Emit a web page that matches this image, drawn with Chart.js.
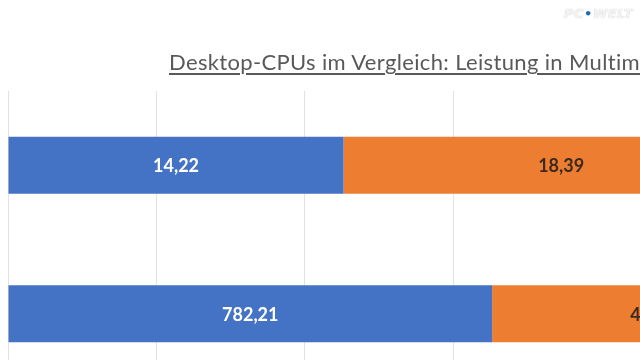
<!DOCTYPE html>
<html>
<head>
<meta charset="utf-8">
<script src="https://cdn.jsdelivr.net/npm/chart.js@4.4.1/dist/chart.umd.min.js"></script>
<style>
    html, body { margin: 0; padding: 0; background: #fff; overflow: hidden; width: 640px; height: 360px; }
    #wrap { position: relative; width: 640px; height: 388px; }
    #title {
        position: absolute; left: 169px; top: 48px; white-space: nowrap;
        font-family: Lato, sans-serif; font-size: 22px; color: #595959;
        letter-spacing: 0.35px; font-variant-ligatures: none;
        text-decoration: underline; text-underline-offset: 3px;
    }
    #logo {
        position: absolute; left: 564px; top: 6px; font-family: "DejaVu Sans", sans-serif;
        font-size: 13px; font-weight: bold; font-style: italic; color: #f4f4f4;
        text-shadow: 0 0 1px #b8b8b8; letter-spacing: 0.5px;
    }
    #logo span { color: #1f6fb3; font-style: normal; text-shadow: none; }
</style>
</head>
<body>
<div id="wrap">
    <canvas id="myChart" width="640" height="388"></canvas>
    <div id="title">Desktop-CPUs im Vergleich: Leistung in Multim</div>
    <div id="logo">PC<span>•</span>WELT</div>
</div>
<script>
// rows of the 100% stacked chart (only the visible part of the frame)
const categories = ['CPU A', 'CPU B'];
// share of each row in percent
const blueShare = [22.6, 32.6];
const orangeShare = [29.3, 22.4];
// values printed inside the bars
const blueLabels = ['14,22', '782,21'];
const orangeLabels = ['18,39', '437,15'];
const gridStep = 10;
const axisMax = 42.56;

const barLabels = {
    id: 'barLabels',
    afterDatasetsDraw(chart) {
        const ctx = chart.ctx;
        ctx.save();
        ctx.font = 'bold 18px Lato, sans-serif';
        ctx.textAlign = 'center';
        ctx.textBaseline = 'middle';
        chart.data.datasets.forEach((ds, i) => {
            chart.getDatasetMeta(i).data.forEach((bar, j) => {
                ctx.fillStyle = ds.labelColor;
                ctx.fillText(ds.valueLabels[j], (bar.x + bar.base) / 2, bar.y + 1);
            });
        });
        ctx.restore();
    }
};

new Chart(document.getElementById('myChart'), {
    type: 'bar',
    data: {
        labels: categories,
        datasets: [{
            data: blueShare,
            valueLabels: blueLabels,
            labelColor: '#ffffff',
            backgroundColor: '#4472c4'
        }, {
            data: orangeShare,
            valueLabels: orangeLabels,
            labelColor: '#3d2a1e',
            backgroundColor: '#ed7d31'
        }]
    },
    options: {
        indexAxis: 'y',
        responsive: false,
        animation: false,
        barPercentage: 0.385,
        categoryPercentage: 1,
        layout: { padding: { top: 91, left: 8, right: 0, bottom: 0 } },
        plugins: {
            legend: { display: false },
            tooltip: { enabled: false }
        },
        scales: {
            x: {
                stacked: true,
                min: 0,
                max: axisMax,
                ticks: { display: false, stepSize: gridStep },
                grid: { color: '#e2e2e2', drawTicks: false },
                border: { display: false }
            },
            y: {
                stacked: true,
                display: false
            }
        }
    },
    plugins: [barLabels]
});
</script>
</body>
</html>
